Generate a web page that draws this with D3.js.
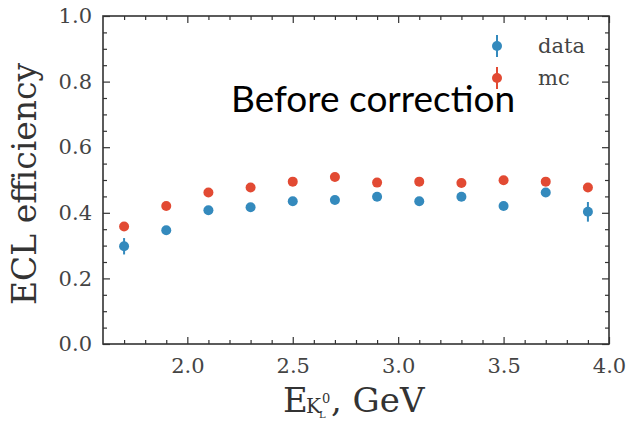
<!DOCTYPE html>
<html>
<head>
<meta charset="utf-8">
<script src="https://cdn.jsdelivr.net/npm/d3@7"></script>
<style>
  html, body { margin: 0; padding: 0; background: #fff; }
  svg { display: block; }
</style>
</head>
<body>
<svg id="chart" width="629" height="421"></svg>
<script>
// Energy bins (GeV) and measured / simulated efficiencies
const energies = [1.7, 1.9, 2.1, 2.3, 2.5, 2.7, 2.9, 3.1, 3.3, 3.5, 3.7, 3.9];
const dataEff  = [0.298, 0.347, 0.408, 0.417, 0.435, 0.439, 0.449, 0.435, 0.449, 0.421, 0.462, 0.403];
const dataErr  = [0.025, 0.012, 0.010, 0.010, 0.010, 0.010, 0.010, 0.010, 0.010, 0.012, 0.012, 0.030];
const mcEff    = [0.358, 0.421, 0.462, 0.477, 0.495, 0.509, 0.492, 0.495, 0.491, 0.499, 0.495, 0.477];
const mcErr    = [0.012, 0.008, 0.008, 0.008, 0.008, 0.008, 0.008, 0.008, 0.008, 0.008, 0.008, 0.012];
const xTicks   = [2.0, 2.5, 3.0, 3.5, 4.0];
const yTicks   = [0.0, 0.2, 0.4, 0.6, 0.8, 1.0];
const seriesNames = ["data", "mc"];
const seriesColors = ["#348ABD", "#E24A33"];

const svg = d3.select("#chart");
const m = { left: 103, right: 609, top: 16, bottom: 344 };
const serif = "'DejaVu Serif', serif";

const x = d3.scaleLinear().domain([1.6, 4.0]).range([m.left, m.right]);
const y = d3.scaleLinear().domain([0.0, 1.0]).range([m.bottom, m.top]);

const xMinor = d3.range(17, 40).map(v => v / 10).filter(v => !xTicks.some(t => Math.abs(t - v) < 1e-6));
const yMinor = d3.range(1, 20).map(v => v / 20).filter(v => !yTicks.some(t => Math.abs(t - v) < 1e-6));

const axisColor = "#333";
const labelColor = "#444";

function styleAxis(g) {
  g.select(".domain").remove();
  g.selectAll(".tick line").attr("stroke", axisColor).attr("stroke-width", 1.2);
  g.selectAll(".tick text").attr("fill", labelColor).style("font-family", serif).style("font-size", "21px");
}

// Major ticks with labels (bottom, left), inward-pointing
svg.append("g").attr("transform", `translate(0,${m.bottom})`)
  .call(d3.axisBottom(x).tickValues(xTicks).tickFormat(d3.format(".1f")).tickSize(-7).tickPadding(13))
  .call(styleAxis)
  .call(g => g.selectAll(".tick text").attr("y", 29).attr("dy", null));
svg.append("g").attr("transform", `translate(${m.left},0)`)
  .call(d3.axisLeft(y).tickValues(yTicks).tickFormat(d3.format(".1f")).tickSize(-7).tickPadding(11))
  .call(styleAxis);
// Mirrored major ticks (top, right)
svg.append("g").attr("transform", `translate(0,${m.top})`)
  .call(d3.axisTop(x).tickValues(xTicks).tickFormat("").tickSize(-7))
  .call(styleAxis);
svg.append("g").attr("transform", `translate(${m.right},0)`)
  .call(d3.axisRight(y).tickValues(yTicks).tickFormat("").tickSize(-7))
  .call(styleAxis);
// Minor ticks on all sides
svg.append("g").attr("transform", `translate(0,${m.bottom})`)
  .call(d3.axisBottom(x).tickValues(xMinor).tickFormat("").tickSize(-4)).call(styleAxis);
svg.append("g").attr("transform", `translate(0,${m.top})`)
  .call(d3.axisTop(x).tickValues(xMinor).tickFormat("").tickSize(-4)).call(styleAxis);
svg.append("g").attr("transform", `translate(${m.left},0)`)
  .call(d3.axisLeft(y).tickValues(yMinor).tickFormat("").tickSize(-4)).call(styleAxis);
svg.append("g").attr("transform", `translate(${m.right},0)`)
  .call(d3.axisRight(y).tickValues(yMinor).tickFormat("").tickSize(-4)).call(styleAxis);

// Frame
svg.append("rect")
  .attr("x", m.left).attr("y", m.top)
  .attr("width", m.right - m.left).attr("height", m.bottom - m.top)
  .attr("fill", "none").attr("stroke", axisColor).attr("stroke-width", 1.6);

// Error bar series
const series = [
  { name: seriesNames[0], color: seriesColors[0], vals: dataEff, errs: dataErr },
  { name: seriesNames[1], color: seriesColors[1], vals: mcEff, errs: mcErr }
];

series.forEach(s => {
  const g = svg.append("g");
  const pts = energies.map((e, i) => ({ e, v: s.vals[i], err: s.errs[i] }));
  g.selectAll("line").data(pts).join("line")
    .attr("x1", d => x(d.e)).attr("x2", d => x(d.e))
    .attr("y1", d => y(d.v - d.err)).attr("y2", d => y(d.v + d.err))
    .attr("stroke", s.color).attr("stroke-width", 2);
  g.selectAll("circle").data(pts).join("circle")
    .attr("cx", d => x(d.e)).attr("cy", d => y(d.v))
    .attr("r", 5).attr("fill", s.color);
});

// Legend
const legend = svg.append("g");
series.forEach((s, i) => {
  const ly = 46 + i * 32;
  legend.append("line").attr("x1", 497).attr("x2", 497).attr("y1", ly - 11).attr("y2", ly + 11)
    .attr("stroke", s.color).attr("stroke-width", 2);
  legend.append("circle").attr("cx", 497).attr("cy", ly).attr("r", 5).attr("fill", s.color);
  legend.append("text").attr("x", 538).attr("y", ly + 7)
    .attr("fill", labelColor).style("font-family", serif).style("font-size", "21px")
    .text(s.name);
});

// Annotation
svg.append("text").attr("x", 231).attr("y", 112)
  .style("font-family", "Lato, sans-serif").style("font-size", "37px").attr("fill", "#000")
  .text("Before correction");

// Axis titles
svg.append("text")
  .attr("transform", "translate(36,184) rotate(-90)")
  .attr("text-anchor", "middle")
  .attr("fill", "#333").style("font-family", serif).style("font-size", "33px")
  .text("ECL efficiency");

const xl = svg.append("text").attr("fill", "#333").style("font-family", serif);
xl.append("tspan").attr("x", 283).attr("y", 412).style("font-size", "34px").text("E");
xl.append("tspan").attr("x", 306).attr("y", 413).style("font-size", "20px").text("K");
xl.append("tspan").attr("x", 322).attr("y", 403).style("font-size", "13px").text("0");
xl.append("tspan").attr("x", 319).attr("y", 418).style("font-size", "10px").text("L");
xl.append("tspan").attr("x", 331).attr("y", 412).style("font-size", "34px").text(", GeV");
</script>
</body>
</html>
